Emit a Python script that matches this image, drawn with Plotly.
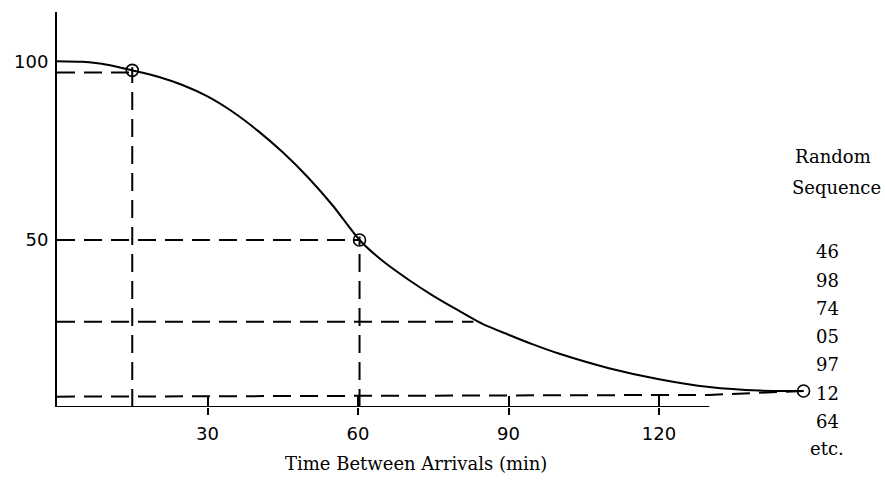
import plotly.graph_objects as go

# ---- data ----
curve_x = [0, 5, 10, 15, 20, 25, 30, 35, 40, 45, 50, 55, 60.3, 65, 70, 75, 80, 85,
           90, 95, 100, 110, 120, 130, 140, 148.8]
curve_y = [100.2, 100.0, 99.2, 97.6, 95.9, 93.5, 90.3, 86.0, 80.7, 74.6, 67.6, 59.6, 50.0, 44.0,
           38.9, 34.3, 30.2, 26.3, 23.4, 20.6, 18.1, 14.0, 10.9, 8.7, 7.7, 7.6]

marker_x = [15, 60.3, 148.8]
marker_y = [97.6, 50, 7.6]

guide_h_y = [97, 50, 27]
guide_h_end = [15, 60.3, 83]
guide_v_x = [15, 60.3]
guide_v_top = [98.5, 51]
low_guide_x = [0, 130, 148.8]
low_guide_y = [6.0, 6.5, 7.6]

x_tick_vals = [30, 60, 90, 120]
x_tick_text = ["30", "60", "90", "120"]
y_tick_vals = [50, 100]
y_tick_text = ["50", "100"]
axis_end = 130
axis_base = 3.1

random_seq = ["46", "98", "74", "05", "97", "12", "64", "etc."]
x_title = "Time Between Arrivals (min)"
side_title = ["Random", "Sequence"]

# ---- layout geometry ----
W, H = 885, 485
ML, MR, MT, MB = 57, 10, 12, 78
PW, PH = W - ML - MR, H - MT - MB
XR = [0, PW / 5.017]
YR = [axis_base, 114.0]

def px_x(p):
    return (p - ML) / PW

def px_y(p):
    return (H - MB - p) / PH

SANS = "DejaVu Sans"
SERIF = "DejaVu Serif"
DASH = "18px,9px"

fig = go.Figure()

fig.add_trace(go.Scatter(x=curve_x, y=curve_y, mode="lines",
                         line=dict(color="black", width=2, shape="spline", smoothing=0.6),
                         hoverinfo="skip"))

for yv, xe in zip(guide_h_y, guide_h_end):
    fig.add_trace(go.Scatter(x=[0, xe], y=[yv, yv], mode="lines",
                             line=dict(color="black", width=2, dash=DASH), hoverinfo="skip"))
for xv, yt in zip(guide_v_x, guide_v_top):
    fig.add_trace(go.Scatter(x=[xv, xv], y=[axis_base, yt], mode="lines",
                             line=dict(color="black", width=2, dash=DASH), hoverinfo="skip"))

fig.add_trace(go.Scatter(x=low_guide_x, y=low_guide_y, mode="lines", xaxis="x2",
                         line=dict(color="black", width=2, dash=DASH), hoverinfo="skip"))

fig.add_trace(go.Scatter(x=marker_x, y=marker_y, mode="markers", cliponaxis=False,
                         marker=dict(symbol="circle-open", size=12, color="black",
                                     line=dict(width=1.6, color="black")),
                         hoverinfo="skip"))

# x axis line (ends at 130, as in the reference)
fig.add_shape(type="line", xref="x", yref="y", x0=0, x1=axis_end, y0=axis_base, y1=axis_base,
              line=dict(color="black", width=2))

annotations = [
    dict(text=x_title, xref="paper", yref="paper", x=px_x(416), y=px_y(463),
         xanchor="center", yanchor="middle", showarrow=False,
         font=dict(family=SERIF, size=18, color="black")),
    dict(text=side_title[0], xref="paper", yref="paper", x=px_x(833), y=px_y(156),
         xanchor="center", yanchor="middle", showarrow=False,
         font=dict(family=SERIF, size=18, color="black")),
    dict(text=side_title[1], xref="paper", yref="paper", x=px_x(836), y=px_y(187),
         xanchor="center", yanchor="middle", showarrow=False,
         font=dict(family=SERIF, size=18, color="black")),
]
seq_y = [251, 280, 308, 336, 364, 393, 421, 449]
for t, py in zip(random_seq, seq_y):
    annotations.append(dict(text=t, xref="paper", yref="paper", x=px_x(827), y=px_y(py),
                            xanchor="center", yanchor="middle", showarrow=False,
                            font=dict(family=SERIF, size=18, color="black")))

fig.update_layout(
    width=W, height=H,
    margin=dict(l=ML, r=MR, t=MT, b=MB, autoexpand=False),
    paper_bgcolor="white", plot_bgcolor="white",
    showlegend=False,
    xaxis=dict(range=XR, showline=False, showgrid=False, zeroline=False, automargin=False,
               tickvals=x_tick_vals, ticktext=x_tick_text, ticks="outside",
               ticklen=7, tickwidth=2, tickcolor="black", ticklabelstandoff=3,
               tickfont=dict(family=SANS, size=18, color="black")),
    xaxis2=dict(range=XR, overlaying="x", anchor="y", side="bottom", automargin=False,
                showline=False, showgrid=False, zeroline=False,
                tickvals=x_tick_vals, ticks="inside", ticklen=11, tickwidth=2,
                tickcolor="black", showticklabels=False),
    yaxis=dict(range=YR, showline=True, linewidth=2, linecolor="black", automargin=False,
               showgrid=False, zeroline=False, ticks="",
               tickvals=y_tick_vals, ticktext=y_tick_text, ticklabelstandoff=3,
               tickfont=dict(family=SANS, size=18, color="black")),
    annotations=annotations,
)

fig.write_html("out.html", config={"displayModeBar": False},
               post_script="document.body.style.margin='0';document.body.style.overflow='hidden';")
